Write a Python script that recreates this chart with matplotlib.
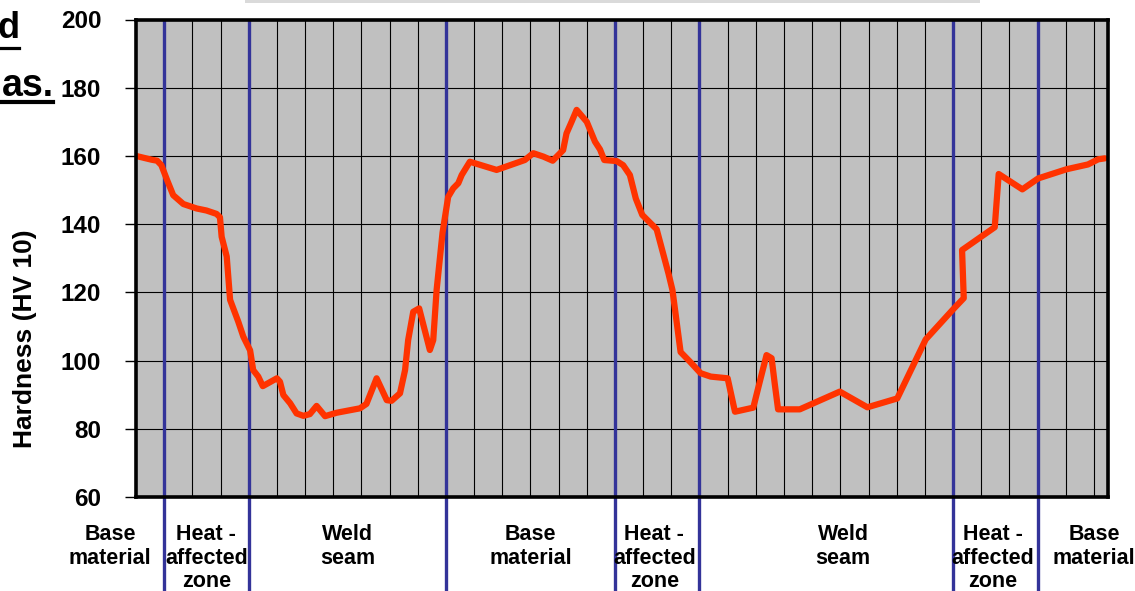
import matplotlib
matplotlib.use("Agg")
import matplotlib.pyplot as plt
from matplotlib.patches import Rectangle
from matplotlib.lines import Line2D

# ---------------- data ----------------
distance = [0.0, 0.55, 0.75, 0.9, 1.1, 1.32, 1.68, 2.15, 2.5, 2.86, 2.98, 3.04, 3.22, 3.34,
            3.63, 3.81, 4.05, 4.16, 4.34, 4.5, 5.0, 5.11, 5.23, 5.47, 5.7, 5.94, 6.17, 6.41,
            6.71, 7.12, 7.95, 8.18, 8.54, 8.9, 9.07, 9.37, 9.55, 9.66, 9.84, 10.05, 10.14,
            10.43, 10.55, 10.67, 10.88, 11.08, 11.26, 11.44, 11.56, 11.85, 12.8, 13.8, 14.1,
            14.46, 14.79, 15.16, 15.28, 15.46, 15.64, 16.0, 16.29, 16.47, 16.62, 17.06, 17.29,
            17.53, 17.74, 17.97, 18.48, 18.9, 19.04, 19.33, 19.66, 20.04, 20.4, 21.0, 21.26,
            21.91, 22.14, 22.38, 22.56, 22.67, 22.79, 23.56, 24.98, 25.96, 27.02, 28.03, 29.0,
            29.38, 29.32, 30.48, 30.62, 31.46, 32.02, 33.03, 33.79, 34.15, 34.39]
hardness = [160.0, 158.9, 158.6, 157.3, 153, 148.5, 145.9, 144.6, 144, 143, 142, 136.3, 130.5,
            117.8, 111.4, 107, 103, 97.2, 95.3, 92.5, 94.8, 93.8, 89.9, 87.5, 84.5, 83.8, 84.3,
            86.7, 83.7, 84.7, 86, 87.3, 94.8, 88.4, 88.2, 90.4, 97.2, 106, 114.3, 115.3, 112.4,
            103.1, 106, 120.7, 137.5, 148, 150.5, 152, 154.4, 158.3, 155.9, 158.8, 160.8, 159.8,
            158.6, 161.7, 166.6, 170, 173.5, 170, 164.2, 161.9, 158.8, 158.5, 157.3, 154.4,
            147.5, 142.7, 138.5, 125.5, 120.7, 102.5, 99.7, 96.3, 95.3, 94.8, 85, 86.2, 93.8,
            101.6, 100.7, 93.3, 85.7, 85.7, 90.9, 86.3, 88.9, 106.2, 115, 118.3, 132.4, 139.1,
            154.7, 150.2, 153.4, 156.1, 157.5, 159, 159.3]

zone_boundaries = [1, 4, 11, 17, 20, 29, 32]
zone_labels = ["Base\nmaterial", "Heat -\naffected\nzone", "Weld\nseam", "Base\nmaterial",
               "Heat -\naffected\nzone", "Weld\nseam", "Heat -\naffected\nzone", "Base\nmaterial"]
zone_label_x = [-0.92, 2.5, 7.5, 14.0, 18.4, 25.1, 30.4, 34.0]

y_ticks = [60, 80, 100, 120, 140, 160, 180, 200]
y_label = "Hardness (HV 10)"

# ---------------- figure ----------------
plt.rcParams['font.family'] = ['Liberation Sans', 'DejaVu Sans']
W, H = 1135, 591
fig = plt.figure(figsize=(W / 100, H / 100), dpi=100)
ax = fig.add_axes([136 / W, 1 - 497 / H, (1108 - 136) / W, (497 - 19.5) / H])
ax.set_facecolor('#C0C0C0')

ax.set_xlim(0, 34.5)
ax.set_ylim(60, 200)

# grid
for gx in range(1, 35):
    ax.axvline(gx, color='black', lw=0.8, zorder=1)
for gy in y_ticks:
    ax.axhline(gy, color='black', lw=0.8, zorder=1)

# zone boundaries (extend below the axes)
ax.vlines(zone_boundaries, -0.2, 1.0, transform=ax.get_xaxis_transform(),
          colors='#333399', lw=2.4, zorder=2, clip_on=False)

# hardness curve
ax.plot(distance, hardness, color='#FF3300', lw=4.5, zorder=3,
        solid_joinstyle='round', solid_capstyle='round')

# spines
for s in ax.spines.values():
    s.set_linewidth(2.6)
    s.set_color('black')
    s.set_zorder(5)

ax.set_xticks([])
ax.set_yticks(y_ticks)
ax.set_yticklabels([str(v) for v in y_ticks], fontsize=17.5, fontweight='bold')
ax.tick_params(axis='y', direction='out', length=8, width=1, pad=17)

fig.text(25 / W, 1 - 339 / H, y_label, rotation=90, ha='center', va='center',
         fontsize=19, fontweight='bold')

# zone labels under the axis
label_top = 60 - (524 - 497) / ((497 - 19.5) / 140)
for lab, lx in zip(zone_labels, zone_label_x):
    ax.text(lx, label_top, lab, ha='center', va='top',
            fontsize=15.5, fontweight='bold', linespacing=1.17, clip_on=False)

# cropped title text at upper left
fig.text(20 / W, 1 - 38 / H, "d", ha='right', va='baseline', fontsize=26, fontweight='bold')
fig.text(54 / W, 1 - 96 / H, "as.", ha='right', va='baseline', fontsize=27, fontweight='bold')
fig.add_artist(Line2D([0, 19 / W], [1 - 47.5 / H] * 2, transform=fig.transFigure,
                      color='black', lw=2.3))
fig.add_artist(Line2D([0, 53 / W], [1 - 101.5 / H] * 2, transform=fig.transFigure,
                      color='black', lw=3.0))

# light bar at top edge
fig.add_artist(Rectangle((245 / W, 1 - 2.5 / H), (980 - 245) / W, 2.5 / H,
                         transform=fig.transFigure, color='#DADADA', lw=0))

fig.savefig('out.png', dpi=100)
